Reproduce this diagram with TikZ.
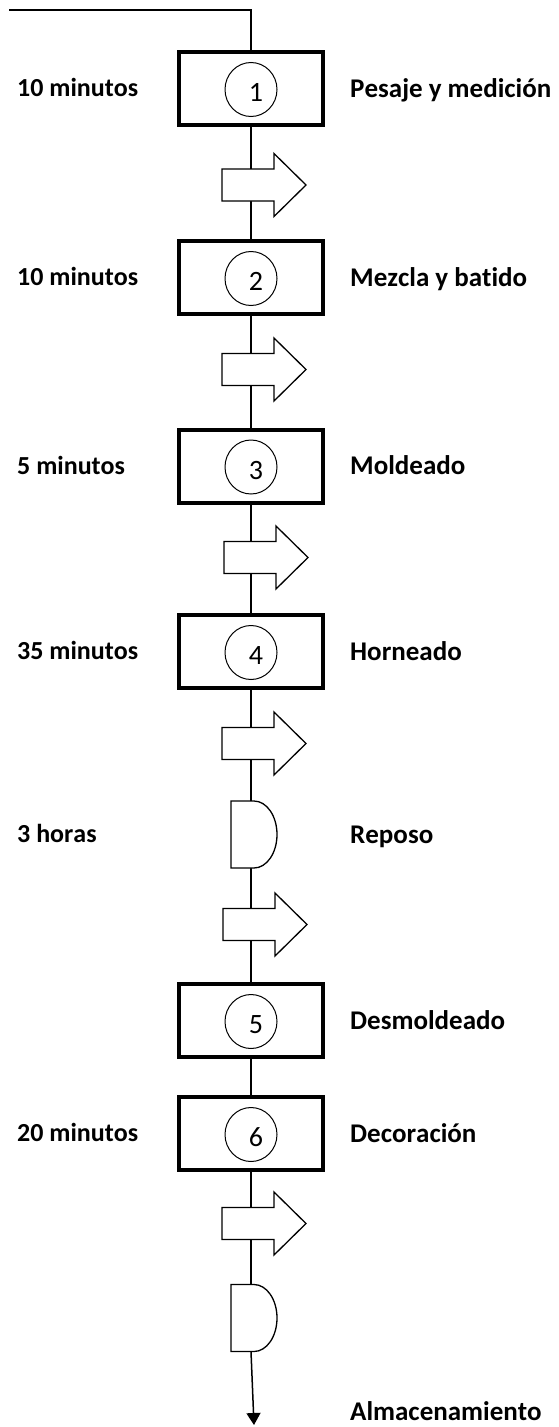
\documentclass[tikz,border=0pt]{standalone}
\usepackage{fontspec}
\setmainfont{Carlito}[Ligatures=NoCommon,Kerning=Off]
\usetikzlibrary{arrows.meta,shapes.geometric}
\begin{document}
\begin{tikzpicture}[x=1pt,y=-1pt,
  opbox/.style={draw,line width=4pt,minimum width=144pt,minimum height=73pt,inner sep=0pt},
  opcirc/.style={draw,ellipse,line width=1pt,minimum width=52pt,minimum height=54pt,inner sep=0pt},
  digit/.style={anchor=base,font=\fontsize{28}{30}\selectfont,inner sep=0pt},
  shaft/.style={rectangle,minimum width=52pt,minimum height=32pt,inner sep=0pt,outer sep=0pt},
  delaybox/.style={rectangle,minimum width=46pt,minimum height=67pt,inner sep=0pt,outer sep=0pt},
  flowarrow/.style={draw,fill=white,line width=1.3pt,line join=miter},
  conn/.style={line width=1.5pt},
  lbl/.style={font=\bfseries\fontsize{26}{28}\selectfont,inner sep=0pt},
  rlbl/.style={font=\bfseries\fontsize{27}{29}\selectfont,inner sep=0pt},
  ]
\useasboundingbox (0,0) rectangle (559,1427);

% operation boxes
\node[opbox] (b1) at (251,88.5) {};
\node[opbox] (b2) at (251,277.5) {};
\node[opbox] (b3) at (251,466) {};
\node[opbox] (b4) at (251,651.5) {};
\node[opbox] (b5) at (251,1020.5) {};
\node[opbox] (b6) at (251,1133.5) {};

% circles and numbers
\foreach \i/\cy in {1/88.5,2/277.5,3/466,4/651.5,5/1020.5,6/1133.5}{
  \node[opcirc] (c\i) at (251,\cy+1) {};
  \node[digit] (n\i) at (256,\cy+13) {\i};
}

% transport arrows (shaft nodes)
\node[shaft] (a1) at (248,185) {};
\node[shaft] (a2) at (248,369.5) {};
\node[shaft] (a3) at (250,557.5) {};
\node[shaft] (a4) at (248,743.5) {};
\node[shaft] (a5) at (249,924.5) {};
\node[shaft] (a6) at (248,1223.5) {};

% delays
\node[delaybox] (d1) at (254,834.5) {};
\node[delaybox] (d2) at (254,1318) {};

\coordinate (start) at (9,10);
\coordinate (end) at (254,1425);

% connectors
\draw[conn] (start) -- (start -| b1.north) -- (b1.north);
\draw[conn] (b1.south) -- (b1.south |- a1.north);
\draw[conn] (b1.south |- a1.south) -- (b2.north);
\draw[conn] (b2.south) -- (b2.south |- a2.north);
\draw[conn] (b2.south |- a2.south) -- (b3.north);
\draw[conn] (b3.south) -- (b3.south |- a3.north);
\draw[conn] (b3.south |- a3.south) -- (b4.north);
\draw[conn] (b4.south) -- (b4.south |- a4.north);
\draw[conn] (b4.south |- a4.south) -- (b4.south |- d1.north);
\draw[conn] (b4.south |- d1.south) -- (b4.south |- a5.north);
\draw[conn] (b4.south |- a5.south) -- (b5.north);
\draw[conn] (b5.south) -- (b6.north);
\draw[conn] (b6.south) -- (b6.south |- a6.north);
\draw[conn] (b6.south |- a6.south) -- (b6.south |- d2.north);
\draw[conn,-{Triangle[width=14pt,length=12pt]}] (b6.south |- d2.south) -- (end);

% arrow outlines
\foreach \a in {a1,a2,a3,a4,a5,a6}{
  \draw[flowarrow] (\a.north west) -- (\a.north east) -- ++(0,15.5pt) -- ++(32pt,-31.5pt)
    -- ++(-32pt,-31.5pt) -- (\a.south east) -- (\a.south west) -- cycle;
}

% delay outlines
\foreach \d in {d1,d2}{
  \draw[flowarrow] (\d.north west) -- ++(23pt,0)
    arc[start angle=90,end angle=-90,x radius=23pt,y radius=33.5pt]
    -- (\d.south west) -- cycle;
}

% left labels
\node[lbl,anchor=base west] (t1) at (17,88.5+8.4) {10 minutos};
\node[lbl,anchor=base west] (t2) at (17,277.5+8.4) {10 minutos};
\node[lbl,anchor=base west] (t3) at (17,466+8.4) {5 minutos};
\node[lbl,anchor=base west] (t4) at (17,651.5+8.4) {35 minutos};
\node[lbl,anchor=base west] (t5) at (17,834.5+8.4) {3 horas};
\node[lbl,anchor=base west] (t6) at (17,1133.5+8.4) {20 minutos};

% right labels
\node[rlbl,anchor=base west] (r1) at (350,88.5+8.7) {Pesaje y medición};
\node[rlbl,anchor=base west] (r2) at (350,277.5+8.7) {Mezcla y batido};
\node[rlbl,anchor=base west] (r3) at (350,466+8.7) {Moldeado};
\node[rlbl,anchor=base west] (r4) at (350,651.5+8.7) {Horneado};
\node[rlbl,anchor=base west] (r5) at (350,834.5+8.7) {Reposo};
\node[rlbl,anchor=base west] (r6) at (350,1020.5+8.7) {Desmoldeado};
\node[rlbl,anchor=base west] (r7) at (350,1133.5+8.7) {Decoración};
\node[rlbl,anchor=base west] (r8) at (350,1420) {Almacenamiento};
\end{tikzpicture}
\end{document}
